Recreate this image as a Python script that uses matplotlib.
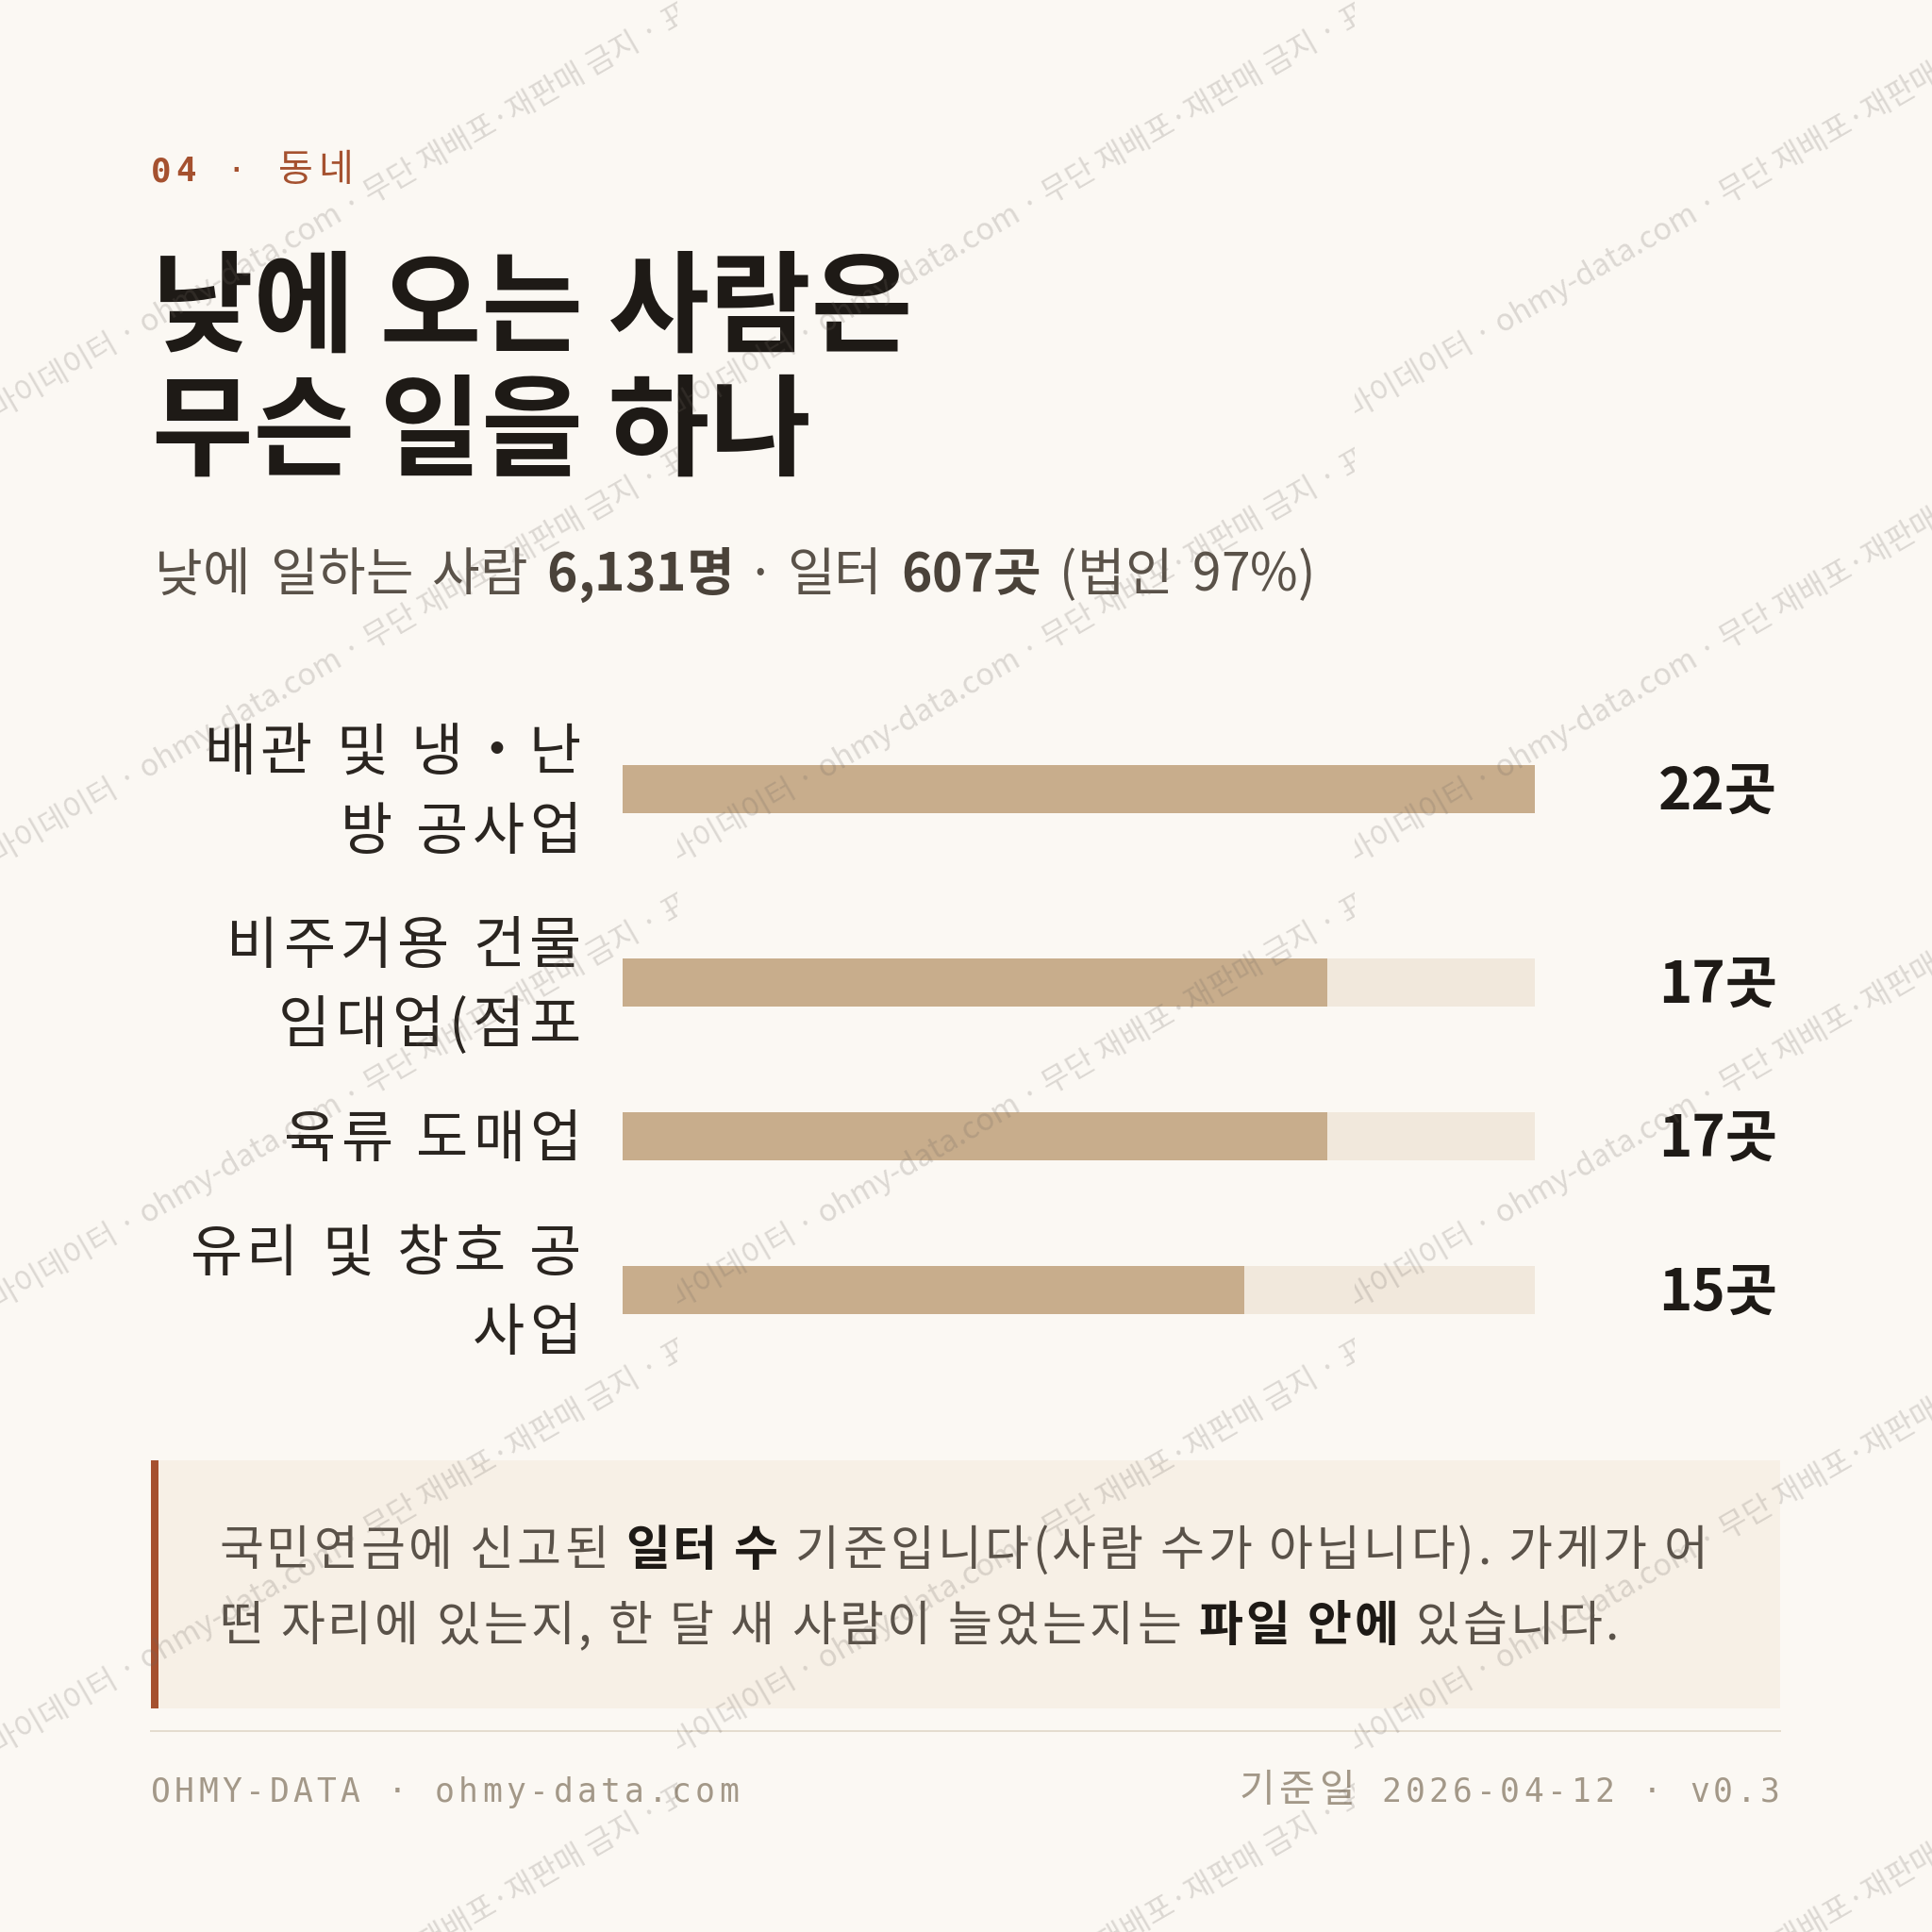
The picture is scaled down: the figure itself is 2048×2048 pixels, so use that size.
import numpy as np
import matplotlib
matplotlib.use("Agg")
import matplotlib.pyplot as plt
from matplotlib.patches import Rectangle
from matplotlib.lines import Line2D
from matplotlib.transforms import Bbox, TransformedBbox, blended_transform_factory
from matplotlib.font_manager import FontProperties

# --- data ---
section_no = "04"
section_name = "동네"
title_lines = ["낮에 오는 사람은", "무슨 일을 하나"]
subtitle_parts = ["낮에 일하는 사람", " 6,131명", " · 일터", " 607곳", " (법인 97%)"]
subtitle_bold = [False, True, False, True, False]
categories = ["배관 및 냉・난\n방 공사업", "비주거용 건물\n임대업(점포", "육류 도매업", "유리 및 창호 공\n사업"]
counts = [22, 17, 17, 15]
unit = "곳"
note_line1 = ["국민연금에 신고된", " 일터 수", " 기준입니다(사람 수가 아닙니다). 가게가 어"]
note_line2 = ["떤 자리에 있는지, 한 달 새 사람이 늘었는지는", " 파일 안에", " 있습니다."]
note_bold1 = [False, True, False]
note_bold2 = [False, True, False]
footer_left = "OHMY-DATA · ohmy-data.com"
footer_right = "기준일 2026-04-12 · v0.3"
watermark = "마이데이터 · ohmy-data.com · 무단 재배포·재판매 금지 · 표본 데이터"

# --- style ---
W = H = 2048
DPI = 100
BG = "#fbf8f3"
INK = "#1e1a16"
LABEL = "#2a2520"
MUTED = "#5a5249"
MUTED_B = "#4a4239"
RUST = "#a5512f"
BAR = "#c8ad8c"
TRACK = "#f1e8dc"
NOTE_BG = "#f7f0e6"
FOOT = "#a39888"
RULE = "#e4dccf"
KR = ["Noto Sans CJK KR", "DejaVu Sans"]
MONO = ["DejaVu Sans Mono", "Noto Sans CJK KR"]


def fx(x):
    return x / W


def fy(y):
    return 1 - y / H


def pt(px):
    return px * 72 / DPI


def base(yc, em):
    # baseline (px from top) for text whose glyphs are centred on yc
    return yc + 0.37 * em


fig = plt.figure(figsize=(W / DPI, H / DPI), dpi=DPI, facecolor=BG)
renderer = fig.canvas.get_renderer()

_adv = {}


def adv(c, em, weight="normal", family=KR):
    key = (c, em, weight, tuple(family))
    if key not in _adv:
        prop = FontProperties(family=family, weight=weight, size=pt(em))
        w = lambda s: renderer.get_text_width_height_descent(s, prop, ismath=False)[0]
        _adv[key] = w("|" + c + "|") - w("||")
    return _adv[key]


def draw_chars(x, y, parts, bolds, em, track, color, bcolor, ha="left", transform=None, ws=0):
    # korean text drawn glyph by glyph so letter spacing can be added
    transform = transform or fig.transFigure
    items = []
    for s, b in zip(parts, bolds):
        w = "bold" if b else "normal"
        for i, c in enumerate(s):
            near_dot = "·" in s[max(i - 1, 0):i + 2]
            extra = ws if (c == " " and not near_dot) else 0
            items.append((c, w, bcolor if b else color, adv(c, em, w) + track + extra))
    total = sum(it[3] for it in items) - track
    if ha == "right":
        x -= total
    for c, w, col, a in items:
        if c != " ":
            fig.text(fx(x + (a - track) / 2), y, c, transform=transform, fontsize=pt(em),
                     family=KR, weight=w, color=col, ha="center", va="baseline")
        x += a
    return x


def mono_items(s, em, cjk_em, track):
    out = []
    for c in s:
        if ord(c) > 0x1000:
            out.append((c, cjk_em, adv(c, cjk_em) + track))
        else:
            out.append((c, em, 0.602 * em + track))
    return out


def spaced_text(x, yc, s, em, cjk_em, track, color, weight="normal", ha="left"):
    items = mono_items(s, em, cjk_em, track)
    if ha == "right":
        x -= sum(it[2] for it in items) - track
    for c, e, a in items:
        if c != " ":
            fam = KR if ord(c) > 0x1000 else MONO
            fig.text(fx(x + (a - track) / 2), fy(base(yc, em)), c, fontsize=pt(e),
                     family=fam, weight=weight, color=color, ha="center", va="baseline")
        x += a
    return x


# header
x = spaced_text(160, 179, section_no, 36, 37, 4.8, RUST, weight="bold")
x = spaced_text(x, 179, " · ", 36, 37, 4.8, RUST)
spaced_text(x + 3, 179, section_name, 36, 40, 4.8, RUST)

# title
for i, line in enumerate(title_lines):
    fig.text(fx(161), fy(base(320 + i * 131, 117)), line, fontsize=pt(117), family=KR,
             weight="bold", color=INK, ha="left", va="baseline")

# subtitle
draw_chars(164, fy(base(606, 55)), subtitle_parts, subtitle_bold, 55, 0.0, MUTED, MUTED_B, ws=8)

# bars
LINE, GAP, ROWS_TOP = 84, 37, 752
BAR_X0, BAR_X1, BAR_H = 660, 1627, 51
LABEL_RIGHT, VALUE_RIGHT = 616, 1884
LABEL_EM, VALUE_EM = 60, 60

n_lines = [len(c.split("\n")) for c in categories]
row_h = np.array(n_lines) * LINE
tops = ROWS_TOP + np.concatenate([[0], np.cumsum(row_h[:-1] + GAP)])
centers = tops + row_h / 2
bottom = tops[-1] + row_h[-1]

ax = fig.add_axes([fx(BAR_X0), fy(bottom), (BAR_X1 - BAR_X0) / W, (bottom - ROWS_TOP) / H])
ax.set_xlim(0, max(counts))
ax.set_ylim(bottom, ROWS_TOP)
ax.barh(centers, [max(counts)] * len(counts), height=BAR_H, color=TRACK)
ax.barh(centers, counts, height=BAR_H, color=BAR)
ax.axis("off")
ax.patch.set_visible(False)

tr = blended_transform_factory(fig.transFigure, ax.transData)
span = BAR_X1 - BAR_X0
for top, cat, c, v in zip(tops, categories, centers, counts):
    for k, ln in enumerate(cat.split("\n")):
        yc = top + LINE * (k + 0.5)
        draw_chars(LABEL_RIGHT, base(yc, LABEL_EM), [ln], [False], LABEL_EM, 5.0,
                   LABEL, LABEL, ha="right", transform=tr, ws=1.5)
    ax.text(1 + (VALUE_RIGHT - BAR_X1) / span, base(c, VALUE_EM), f"{v}{unit}",
            transform=ax.get_yaxis_transform(), fontsize=pt(VALUE_EM), family=KR,
            weight="bold", color=INK, ha="right", va="baseline", clip_on=False)

# note box
fig.add_artist(Rectangle((fx(160), fy(1811)), 1727 / W, 263 / H, transform=fig.transFigure,
                         facecolor=NOTE_BG, edgecolor="none", zorder=1))
fig.add_artist(Rectangle((fx(160), fy(1811)), 7.5 / W, 263 / H, transform=fig.transFigure,
                         facecolor=RUST, edgecolor="none", zorder=1.1))
draw_chars(232, fy(base(1640, 51)), note_line1, note_bold1, 51, 3.3, MUTED, INK)
draw_chars(232, fy(base(1720, 51)), note_line2, note_bold2, 51, 3.3, MUTED, INK)

# footer
fig.add_artist(Line2D([fx(160), fx(1887)], [fy(1835), fy(1835)], transform=fig.transFigure,
                      color=RULE, lw=pt(2)))
spaced_text(160, 1897, footer_left, 34.7, 37, 4.2, FOOT)
spaced_text(1887, 1897, footer_right, 34.7, 41, 4.2, FOOT, ha="right")

# watermark tiles
TW, TH = 718, 472
for j in range(-1, 6):
    for i in range(0, 3):
        x0 = i * TW
        y0 = 445 + j * TH
        t = fig.text(fx(x0 - 2), fy(y0), watermark, fontsize=pt(32.5), family=KR,
                     color="#6e6660", alpha=0.22, rotation=30, rotation_mode="anchor",
                     ha="left", va="baseline", zorder=10)
        clip = TransformedBbox(Bbox.from_extents(fx(x0), 0, fx(x0 + TW), 1), fig.transFigure)
        t.set_clip_box(clip)
        t.set_clip_on(True)

fig.savefig("out.png", dpi=DPI, facecolor=BG)
